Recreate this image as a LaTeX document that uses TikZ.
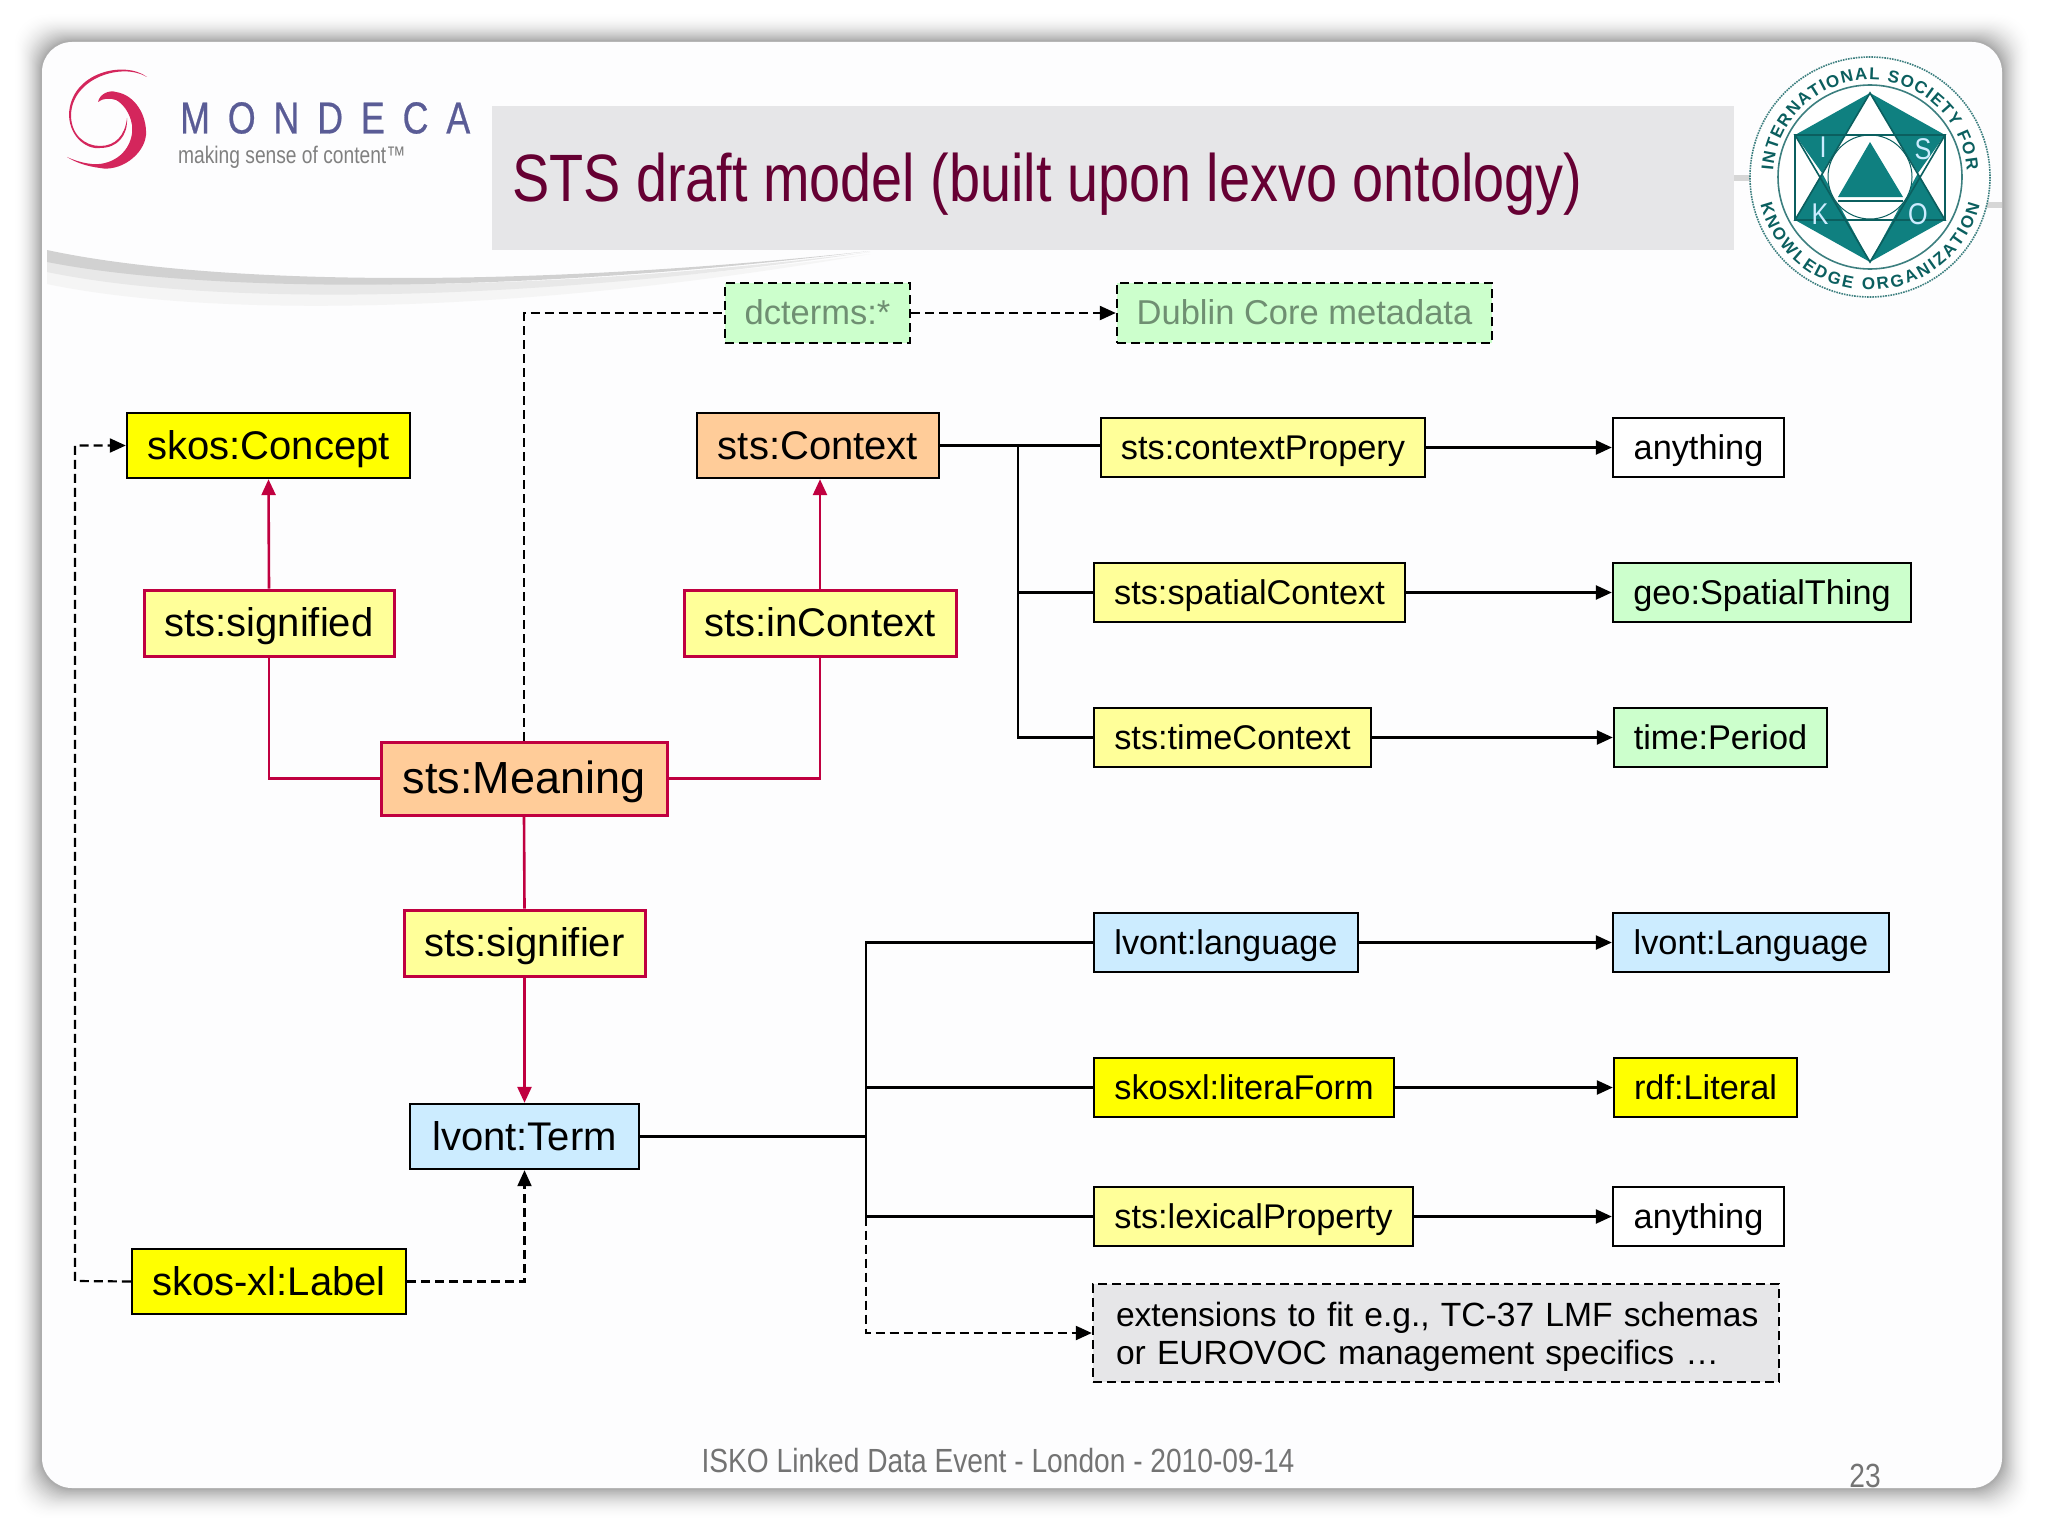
\documentclass[tikz,border=0pt]{standalone}
\usepackage{fontspec}
\setmainfont{Liberation Sans}
\newfontfamily\titlefont[FakeStretch=0.833]{Liberation Sans}
\newfontfamily\footfont[FakeStretch=0.84]{Liberation Sans}
\newfontfamily\mondecafont[FakeStretch=0.8,LetterSpace=40,FakeBold=0.6]{Liberation Sans}
\newfontfamily\tagfont[FakeStretch=0.8]{Liberation Sans}
\newfontfamily\ringfont{Liberation Sans}
\usetikzlibrary{arrows.meta,decorations.text}
\definecolor{crim}{HTML}{C00040}
\definecolor{paley}{HTML}{FFFF99}
\definecolor{strongy}{HTML}{FFFF00}
\definecolor{orng}{HTML}{FFCC99}
\definecolor{pblue}{HTML}{CCECFF}
\definecolor{pgreen}{HTML}{CCFFCC}
\definecolor{extgray}{HTML}{E6E6E8}
\definecolor{titlecol}{HTML}{660033}
\definecolor{teal1}{HTML}{0F8080}
\definecolor{teal2}{HTML}{0B5F5F}
\definecolor{swirl}{HTML}{D4265C}
\definecolor{mond}{HTML}{5A5C96}
\definecolor{dimgreen}{HTML}{6F8F72}
\definecolor{slidebg}{HTML}{FDFDFE}
\tikzset{
  nodebox/.style={draw=black,line width=2.4pt,inner sep=0pt,align=center},
  redbox/.style={draw=crim,line width=3pt},
  big/.style={font=\fontsize{40}{44}\selectfont,text height=29.6pt,text depth=2.4pt},
  huge/.style={font=\fontsize{45}{50}\selectfont,text height=33.3pt,text depth=2.7pt},
  small/.style={font=\fontsize{34.3}{38}\selectfont,text height=25.4pt,text depth=2.1pt},
  dashedbox/.style={dash pattern=on 9pt off 5pt,line width=2.4pt},
  solidconn/.style={draw=black,line width=2.4pt},
  dashconn/.style={draw=black,line width=2.2pt,dash pattern=on 9pt off 5pt},
  redconn/.style={draw=crim,line width=2.6pt},
  tip/.style={-{Triangle[length=16pt,width=14pt]}}
}
\newcommand{\bx}[7]{\pgfmathsetmacro\bw{#4-#3}\pgfmathsetmacro\bh{#6-#5}%
  \node[nodebox,#2,minimum width=\bw pt,minimum height=\bh pt] (#1) at ({(#3+#4)/2},{(#5+#6)/2}) {#7};}
\begin{document}
\begin{tikzpicture}[x=1pt,y=-1pt]
\useasboundingbox (0,0) rectangle (2048,1536);
% slide shadow
\fill[white] (0,0) rectangle (2048,1536);
\foreach \i in {28,27,...,1}{
  \pgfmathsetmacro\g{36*(1-\i/29)*(1-\i/29)}
  \fill[black!\g,rounded corners=32pt] ({42-\i},{42-\i}) rectangle ({2002+\i},{1488+\i*1.1});
}
\fill[black!32,rounded corners=30pt] (41,41) rectangle (2003,1489);
\fill[slidebg,rounded corners=30pt] (42,42) rectangle (2002,1488);
% swoosh
\fill[black!4] (47,266) .. controls (200,296) and (500,304) .. (870,254) .. controls (500,318) and (200,316) .. (47,284) -- cycle;
\fill[black!9] (47,258) .. controls (200,290) and (500,298) .. (870,252) .. controls (500,306) and (200,304) .. (47,272) -- cycle;
\fill[black!18] (47,250) .. controls (200,283) and (500,291) .. (870,251) .. controls (500,296) and (200,292) .. (47,262) -- cycle;
\fill[black!16] (1730,175) rectangle (1760,181);
\fill[black!16] (1985,202) rectangle (2002,208);
% Mondeca logo
\fill[swirl] (147,77) .. controls (125,60) and (70,72) .. (69,115) .. controls (70,140) and (90,150) .. (100,148) .. controls (118,148) and (128,135) .. (127,118) .. controls (125,136) and (115,146) .. (100,146) .. controls (85,146) and (71,135) .. (71,115) .. controls (72,78) and (122,62) .. (147,77) -- cycle;
\fill[swirl] (98,102) .. controls (100,93) and (110,90) .. (116,92) .. controls (135,95) and (147,115) .. (146,135) .. controls (144,155) and (120,172) .. (100,168) .. controls (85,166) and (75,162) .. (67,157) .. controls (80,163) and (95,166) .. (105,163) .. controls (125,158) and (134,140) .. (132,125) .. controls (130,112) and (122,103) .. (116,100) .. controls (110,98) and (103,98) .. (98,102) -- cycle;
\node[anchor=west,inner sep=0pt,text=mond,font=\mondecafont\fontsize{44.7}{50}\selectfont] (mondeca) at (180,118) {MONDECA};
\node[anchor=west,inner sep=0pt,text=black!50,font=\tagfont\fontsize{24}{28}\selectfont] (tagline) at (178,157) {making sense of content™};
% title
\fill[extgray] (492,106) rectangle (1734,250);
\node[anchor=west,inner sep=0pt,text=titlecol,font=\titlefont\fontsize{67}{72}\selectfont] (title) at (512,184) {STS draft model (built upon lexvo ontology)};
% ISKO logo
\begin{scope}
\fill[white] (1870,177) circle (120);
\draw[teal2!80,line width=1.6pt,densely dotted] (1870,177) circle (120);
\draw[teal2!80,line width=1.6pt] (1870,177) circle (92);
\fill[teal1] (1870,93) -- (1795,135) -- (1822,173) -- cycle;
\fill[teal1] (1870,93) -- (1945,135) -- (1918,173) -- cycle;
\fill[teal1] (1870,262) -- (1795,220) -- (1822,173) -- cycle;
\fill[teal1] (1870,262) -- (1945,220) -- (1918,173) -- cycle;
\fill[white] (1870,177) circle (42);
\draw[teal2,line width=1pt] (1870,177) circle (42);
\draw[teal2,line width=2pt] (1795,135) rectangle (1945,220);
\draw[teal2,line width=1.6pt] (1870,93) -- (1795,220) -- (1945,220) -- cycle;
\draw[teal2,line width=1.6pt] (1870,262) -- (1795,135) -- (1945,135) -- cycle;
\fill[teal1] (1870,142) -- (1838,197) -- (1903,197) -- cycle;
\draw[teal2,line width=1.6pt] (1838,201) -- (1903,201);
\node[inner sep=0pt,text=pblue,font=\footfont\fontsize{30}{30}\selectfont] (isi) at (1823,147) {I};
\node[inner sep=0pt,text=pblue,font=\footfont\fontsize{30}{30}\selectfont] (iss) at (1923,149) {S};
\node[inner sep=0pt,text=pblue,font=\footfont\fontsize{30}{30}\selectfont] (isk) at (1820,214) {K};
\node[inner sep=0pt,text=pblue,font=\footfont\fontsize{30}{30}\selectfont] (iso) at (1918,214) {O};
\path[decorate,decoration={text along path,text align={fit to path},text={|\ringfont\bfseries\fontsize{17}{17}\selectfont\color{teal2}|INTERNATIONAL SOCIETY FOR}}]
  (1773.2,170.2) arc[start angle=184,end angle=356,radius=97];
\path[decorate,decoration={text along path,text align={fit to path},text={|\ringfont\bfseries\fontsize{17}{17}\selectfont\color{teal2}|KNOWLEDGE ORGANIZATION}}]
  (1760.4,204.3) arc[start angle=166,end angle=14,radius=113];
\end{scope}
% nodes
\bx{concept}{fill=strongy,big}{127}{410}{413}{478}{skos:Concept}
\bx{signified}{fill=paley,redbox,big}{144}{394}{590}{656}{sts:signified}
\bx{meaning}{fill=orng,redbox,huge}{381}{667}{742}{815}{sts:Meaning}
\bx{signifier}{fill=paley,redbox,big}{404}{645}{910}{976}{sts:signifier}
\bx{term}{fill=pblue,big}{410}{639}{1104}{1169}{lvont:Term}
\bx{label}{fill=strongy,big}{132}{406}{1249}{1314}{skos-xl:Label}
\bx{incontext}{fill=paley,redbox,big}{684}{956}{590}{656}{sts:inContext}
\bx{context}{fill=orng,big}{697}{939}{413}{478}{sts:Context}
\bx{dcterms}{fill=pgreen,dashedbox,small,text=dimgreen,font=\fontsize{34.5}{38}\selectfont}{725}{910}{283}{343}{dcterms:*}
\bx{dublin}{fill=pgreen,dashedbox,small,text=dimgreen,font=\fontsize{34.5}{38}\selectfont}{1117}{1492}{283}{343}{Dublin Core metadata}
\bx{ctxprop}{fill=paley,small}{1101}{1425}{418}{477}{sts:contextPropery}
\bx{any1}{fill=white,small}{1613}{1784}{418}{477}{anything}
\bx{spatial}{fill=paley,small}{1094}{1405}{563}{622}{sts:spatialContext}
\bx{geo}{fill=pgreen,small}{1613}{1911}{563}{622}{geo:SpatialThing}
\bx{timectx}{fill=paley,small}{1094}{1371}{708}{767}{sts:timeContext}
\bx{period}{fill=pgreen,small}{1614}{1827}{708}{767}{time:Period}
\bx{language}{fill=pblue,small}{1094}{1358}{913}{972}{lvont:language}
\bx{Language}{fill=pblue,small}{1613}{1889}{913}{972}{lvont:Language}
\bx{litform}{fill=strongy,small}{1094}{1394}{1058}{1117}{skosxl:literaForm}
\bx{literal}{fill=strongy,small}{1614}{1797}{1058}{1117}{rdf:Literal}
\bx{lexical}{fill=paley,small}{1094}{1413}{1187}{1246}{sts:lexicalProperty}
\bx{any2}{fill=white,small}{1613}{1784}{1187}{1246}{anything}
\node[nodebox,fill=extgray,dashedbox,align=left,font=\fontsize{33.6}{38}\selectfont,text width=640pt,inner xsep=23pt,inner ysep=0pt,minimum width=686pt,minimum height=98pt,text height=32pt] (ext) at (1436,1333) {\mbox{extensions to fit e.g., TC-37 LMF schemas}\\\mbox{or EUROVOC management specifics \dots}};
% footer
\node[inner sep=0pt,text=black!55,font=\footfont\fontsize{33.5}{36}\selectfont] (foot) at (998,1461) {ISKO Linked Data Event - London - 2010-09-14};
\node[inner sep=0pt,text=black!55,font=\footfont\fontsize{33.5}{36}\selectfont] (pageno) at (1865,1476) {23};
% red connectors
\draw[redconn] (meaning.west) -| (signified.south);
\draw[redconn,tip] (signified.north) -- (concept.south);
\draw[redconn] (meaning.east) -| (incontext.south);
\draw[redconn,tip] (incontext.north) -- (incontext.north |- context.south);
\draw[redconn] (meaning.south) -- (signifier.north);
\draw[redconn,tip] (signifier.south) -- (term.north);
% dashed connectors
\coordinate (dcbend) at (meaning.north |- dcterms.west);
\draw[dashconn] (meaning.north) -- (dcbend) -- (dcterms.west);
\draw[dashconn,tip] (dcterms.east) -- (dublin.west);
\coordinate (leftrail) at (75,1281);
\draw[dashconn,tip] (label.west) -- (leftrail) |- (concept.west);
\draw[dashconn,tip] (label.east) -| (term.south);
% upper bus
\coordinate (trunk) at (1018,445.5);
\draw[solidconn] (context.east) -- (context.east -| ctxprop.west);
\draw[solidconn] (trunk) |- (spatial.west);
\draw[solidconn] (trunk) |- (timectx.west);
\draw[solidconn,tip] (ctxprop.east) -- (any1.west);
\draw[solidconn,tip] (spatial.east) -- (geo.west);
\draw[solidconn,tip] (timectx.east) -- (period.west);
% lower bus
\coordinate (bus) at (866,1136.5);
\draw[solidconn] (term.east) -- (bus);
\draw[solidconn] (bus) |- (language.west);
\draw[solidconn] (bus) |- (litform.west);
\draw[solidconn] (bus) |- (lexical.west);
\coordinate (busend) at (bus |- lexical.west);
\draw[dashconn,tip] (busend) |- (ext.west);
\draw[solidconn,tip] (language.east) -- (Language.west);
\draw[solidconn,tip] (litform.east) -- (literal.west);
\draw[solidconn,tip] (lexical.east) -- (any2.west);
\end{tikzpicture}
\end{document}
